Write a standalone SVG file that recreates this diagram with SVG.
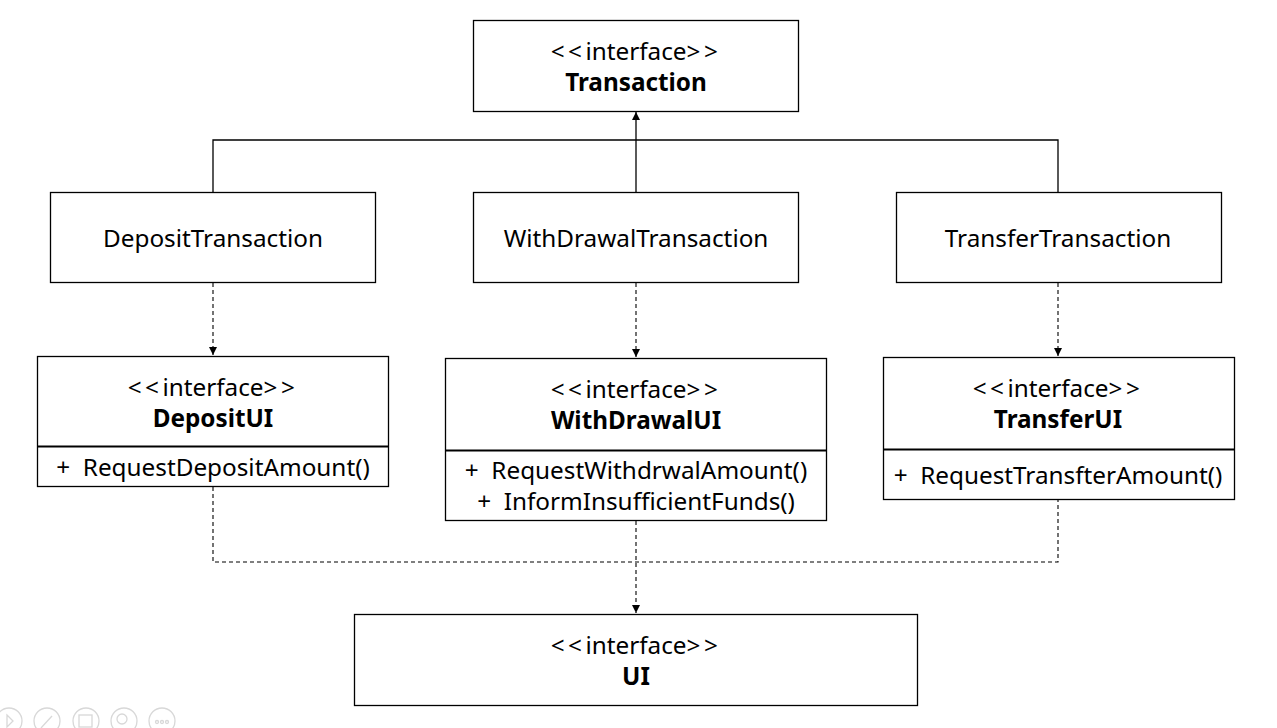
<svg xmlns="http://www.w3.org/2000/svg" width="1277" height="728" viewBox="0 0 1277 728">
<style>
.box{fill:#fff;stroke:#000;stroke-width:1.3}
.div{stroke:#000;stroke-width:2}
.t{font-family:"Noto Sans","Noto Sans CJK KR",sans-serif;font-size:24.3px;fill:#000;text-anchor:middle;dominant-baseline:central;white-space:pre}
.b{font-weight:bold}
.br{letter-spacing:3.5px}
.solid{fill:none;stroke:#000;stroke-width:1.3}
.dash{fill:none;stroke:#000;stroke-width:1.1;stroke-dasharray:4 3}
.ic{fill:none;stroke:#d8d8d8;stroke-width:1.3}
</style>
<defs>
<marker id="ah" viewBox="0 0 10 10" refX="10" refY="5" markerWidth="8" markerHeight="8" markerUnits="userSpaceOnUse" orient="auto">
<path d="M0,0 L10,5 L0,10 Z" fill="#000"/>
</marker>
</defs>
<rect width="1277" height="728" fill="#fff"/>
<g id="connectors">
<path class="solid" d="M213,192 V140 H1058 V192"/>
<path class="solid" d="M636,192 V112" marker-end="url(#ah)"/>
<path class="dash" d="M213,283 V355" marker-end="url(#ah)"/>
<path class="dash" d="M636,283 V357" marker-end="url(#ah)"/>
<path class="dash" d="M1058,283 V356" marker-end="url(#ah)"/>
<path class="dash" d="M213,487 V562 H1058 V500"/>
<path class="dash" d="M636,521 V613" marker-end="url(#ah)"/>
</g>
<g id="Transaction">
<rect class="box" x="473.5" y="20.5" width="325" height="91"/>
<text class="t" x="636" y="50"><tspan class="br">&lt;&lt;</tspan>interface<tspan class="br">&gt;&gt;</tspan></text>
<text class="t b" x="636" y="81">Transaction</text>
</g>
<g id="DepositTransaction">
<rect class="box" x="50.5" y="192.5" width="325" height="90"/>
<text class="t" x="213" y="237">DepositTransaction</text>
</g>
<g id="WithDrawalTransaction">
<rect class="box" x="473.5" y="192.5" width="325" height="90"/>
<text class="t" x="636" y="237">WithDrawalTransaction</text>
</g>
<g id="TransferTransaction">
<rect class="box" x="896.5" y="192.5" width="325" height="90"/>
<text class="t" x="1058" y="237">TransferTransaction</text>
</g>
<g id="DepositUI">
<rect class="box" x="37.5" y="356.5" width="351" height="130"/>
<line class="div" x1="37.5" y1="446.5" x2="388.5" y2="446.5"/>
<text class="t" x="213" y="386"><tspan class="br">&lt;&lt;</tspan>interface<tspan class="br">&gt;&gt;</tspan></text>
<text class="t b" x="213" y="417">DepositUI</text>
<text class="t" x="213" y="466">+  RequestDepositAmount()</text>
</g>
<g id="WithDrawalUI">
<rect class="box" x="445.5" y="358.5" width="381" height="162"/>
<line class="div" x1="445.5" y1="450.5" x2="826.5" y2="450.5"/>
<text class="t" x="636" y="388"><tspan class="br">&lt;&lt;</tspan>interface<tspan class="br">&gt;&gt;</tspan></text>
<text class="t b" x="636" y="419">WithDrawalUI</text>
<text class="t" x="636" y="469">+  RequestWithdrwalAmount()</text>
<text class="t" x="636" y="500">+  InformInsufficientFunds()</text>
</g>
<g id="TransferUI">
<rect class="box" x="883.5" y="357.5" width="351" height="142"/>
<line class="div" x1="883.5" y1="449.5" x2="1234.5" y2="449.5"/>
<text class="t" x="1058" y="387"><tspan class="br">&lt;&lt;</tspan>interface<tspan class="br">&gt;&gt;</tspan></text>
<text class="t b" x="1058" y="418">TransferUI</text>
<text class="t" x="1058" y="474">+  RequestTransfterAmount()</text>
</g>
<g id="UI">
<rect class="box" x="354.5" y="614.5" width="563" height="91"/>
<text class="t" x="636" y="644"><tspan class="br">&lt;&lt;</tspan>interface<tspan class="br">&gt;&gt;</tspan></text>
<text class="t b" x="636" y="675">UI</text>
</g>
<g id="controls">
<circle class="ic" cx="9" cy="721" r="13"/>
<path class="ic" d="M7,715 L13,721 L7,727 Z"/>
<circle class="ic" cx="47" cy="721" r="13"/>
<path class="ic" d="M41,728 L52,716"/>
<circle class="ic" cx="86" cy="721" r="13"/>
<rect class="ic" x="79" y="715" width="13" height="12"/>
<circle class="ic" cx="124" cy="721" r="13"/>
<circle class="ic" cx="122" cy="719" r="5"/>
<circle class="ic" cx="162" cy="721" r="13"/>
<circle class="ic" cx="157" cy="722" r="1.5"/>
<circle class="ic" cx="162" cy="722" r="1.5"/>
<circle class="ic" cx="167" cy="722" r="1.5"/>
</g>
</svg>
